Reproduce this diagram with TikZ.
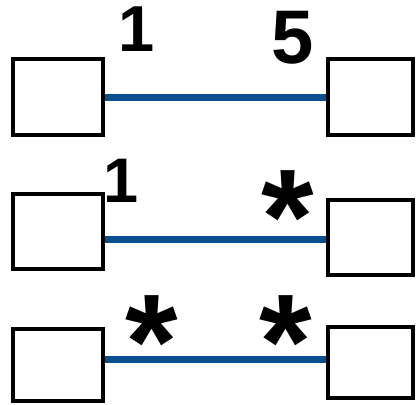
\documentclass[tikz,border=0pt]{standalone}
\usepackage{fontspec}
\setmainfont{Liberation Sans}
\definecolor{linkblue}{RGB}{11,79,145}
\begin{document}
\begin{tikzpicture}[x=1pt,y=-1pt,
  cls/.style={draw=black,fill=white,line width=4pt,inner sep=0pt},
  link/.style={draw=linkblue,line width=7pt},
  mult/.style={inner sep=0pt,font=\fontsize{65}{65}\selectfont\bfseries},
  star/.style={inner sep=0pt,anchor=north,font=\fontsize{135}{135}\selectfont\bfseries}]
\useasboundingbox[fill=white] (0,0) rectangle (419,404);
% row 1
\node[cls,minimum width=90pt,minimum height=76pt] (a1) at (58,97) {};
\node[cls,minimum width=85pt,minimum height=76pt] (b1) at (370.5,97) {};
\coordinate (y1) at (0,97);
\draw[link] (a1.east |- y1) -- (b1.west |- y1);
\node[mult] (m1a) at (136.5,29.5) {1};
\node[mult,font=\fontsize{76}{76}\selectfont\bfseries] (m1b) at (293,37.5) {5};
% row 2
\node[cls,minimum width=90pt,minimum height=75pt] (a2) at (58,231.5) {};
\node[cls,minimum width=85pt,minimum height=75pt] (b2) at (370.5,237.5) {};
\coordinate (y2) at (0,239);
\draw[link] (a2.east |- y2) -- (b2.west |- y2);
\node[mult,font=\fontsize{63}{63}\selectfont\bfseries] (m2a) at (121.5,180.5) {1};
\node[star] (m2b) at (287.5,170) {*};
% row 3
\node[cls,minimum width=90pt,minimum height=72pt] (a3) at (58,365) {};
\node[cls,minimum width=85pt,minimum height=71pt] (b3) at (370.5,362.5) {};
\coordinate (y3) at (0,359);
\draw[link] (a3.east |- y3) -- (b3.west |- y3);
\node[star] (m3a) at (152,295) {*};
\node[star] (m3b) at (286,295) {*};
\end{tikzpicture}
\end{document}
